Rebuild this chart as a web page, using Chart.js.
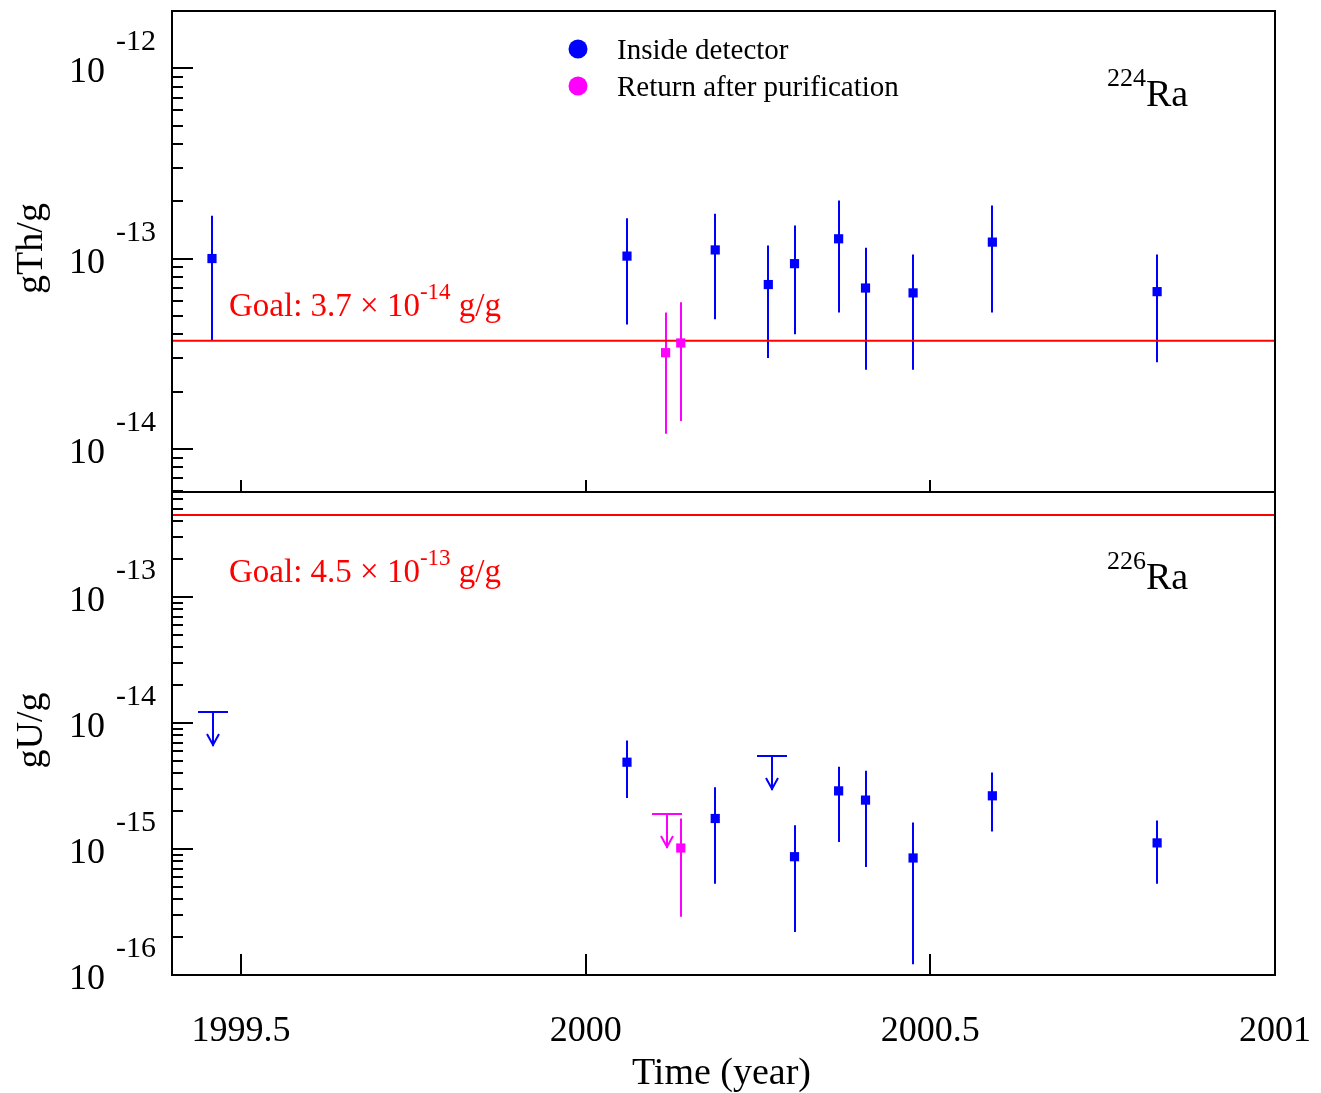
<!DOCTYPE html>
<html lang="en">
<head>
<meta charset="UTF-8">
<title>Ra contamination vs time</title>
<script src="https://cdn.jsdelivr.net/npm/chart.js@4.4.0/dist/chart.umd.min.js"></script>
<style>
    body { margin: 0; background: #fff; }
    #wrap { position: relative; width: 1321px; height: 1093px; }
    canvas { position: absolute; left: 0; }
    #topChart { top: 0; }
    #botChart { top: 484px; }
</style>
</head>
<body>
<div id="wrap">
    <canvas id="topChart" width="1321" height="500"></canvas>
    <canvas id="botChart" width="1321" height="609"></canvas>
</div>
<script>
// time axis (year)
const xMin = 1999.4, xMax = 2001;
const xTicks = [1999.5, 2000, 2000.5, 2001];
const xTickLabels = ['1999.5', '2000', '2000.5', '2001'];

// 224Ra, g Th / g
const thInsideX  = [1999.458, 2000.060, 2000.188, 2000.265, 2000.303, 2000.367, 2000.406, 2000.475, 2000.590, 2000.829];
const thInsideY  = [1.00e-13, 1.03e-13, 1.11e-13, 7.3e-14, 9.4e-14, 1.27e-13, 7.0e-14, 6.6e-14, 1.22e-13, 6.7e-14];
const thInsideHi = [1.68e-13, 1.63e-13, 1.72e-13, 1.17e-13, 1.49e-13, 2.02e-13, 1.14e-13, 1.05e-13, 1.90e-13, 1.05e-13];
const thInsideLo = [3.7e-14, 4.5e-14, 4.8e-14, 3.0e-14, 4.0e-14, 5.2e-14, 2.6e-14, 2.6e-14, 5.2e-14, 2.85e-14];
const thReturnX  = [2000.116, 2000.138];
const thReturnY  = [3.2e-14, 3.6e-14];
const thReturnHi = [5.2e-14, 5.9e-14];
const thReturnLo = [1.2e-14, 1.4e-14];
const thGoal = 3.7e-14;
const thRange = [5.93e-15, 2.0e-12];

// 226Ra, g U / g
const uInsideX  = [2000.060, 2000.188, 2000.303, 2000.367, 2000.406, 2000.475, 2000.590, 2000.829];
const uInsideY  = [4.9e-15, 1.75e-15, 8.7e-16, 2.9e-15, 2.45e-15, 8.5e-16, 2.65e-15, 1.12e-15];
const uInsideHi = [7.3e-15, 3.1e-15, 1.55e-15, 4.5e-15, 4.2e-15, 1.63e-15, 4.05e-15, 1.69e-15];
const uInsideLo = [2.55e-15, 5.3e-16, 2.2e-16, 1.14e-15, 7.2e-16, 1.22e-16, 1.38e-15, 5.3e-16];
const uInsideLimX = [1999.460, 2000.270];
const uInsideLimY = [1.22e-14, 5.5e-15];
const uReturnX  = [2000.138];
const uReturnY  = [1.02e-15];
const uReturnHi = [1.75e-15];
const uReturnLo = [2.9e-16];
const uReturnLimX = [2000.118];
const uReturnLimY = [1.9e-15];
const uGoal = 4.5e-13;
const uRange = [1e-16, 6.86e-13];

const BLUE = '#0000ff', MAGENTA = '#ff00ff', RED = '#ff0000';
const serif = '"Liberation Serif", "Times New Roman", serif';

function pts(xs, ys, lo, hi) {
    return xs.map((v, i) => ({ x: v, y: ys[i], lo: lo ? lo[i] : null, hi: hi ? hi[i] : null }));
}

function logTicks(min, max) {
    const out = [];
    for (let e = Math.floor(Math.log10(min)); e <= Math.ceil(Math.log10(max)); e++) {
        for (let m = 1; m <= 9; m++) {
            const v = m * Math.pow(10, e);
            if (v >= min * 0.999 && v <= max * 1.001) out.push({ v, m, e });
        }
    }
    return out;
}

// draws a run of text pieces: [text, size, dy]
function textRun(ctx, x, base, parts, color) {
    ctx.fillStyle = color;
    ctx.textAlign = 'left';
    ctx.textBaseline = 'alphabetic';
    parts.forEach(([t, size, dy]) => {
        ctx.font = `${size}px ${serif}`;
        ctx.fillText(t, x, base + dy);
        x += ctx.measureText(t).width;
    });
}

const errorBars = {
    id: 'errorBars',
    beforeDatasetsDraw(chart) {
        const { ctx, chartArea: ca, scales: { x, y } } = chart;
        ctx.save();
        ctx.beginPath();
        ctx.rect(ca.left, ca.top, ca.right - ca.left, ca.bottom - ca.top);
        ctx.clip();
        ctx.lineWidth = 2;
        chart.data.datasets.forEach(ds => {
            if (ds.kind === 'err') {
                ctx.strokeStyle = ds.backgroundColor;
                ds.data.forEach(p => {
                    const px = Math.round(x.getPixelForValue(p.x));
                    ctx.beginPath();
                    ctx.moveTo(px, y.getPixelForValue(p.hi));
                    ctx.lineTo(px, y.getPixelForValue(p.lo));
                    ctx.stroke();
                });
            } else if (ds.kind === 'limit') {
                ctx.strokeStyle = ds.borderColor;
                ds.data.forEach(p => {
                    const px = Math.round(x.getPixelForValue(p.x));
                    const py = Math.round(y.getPixelForValue(p.y));
                    ctx.beginPath();
                    ctx.moveTo(px - 15, py); ctx.lineTo(px + 15, py);
                    ctx.moveTo(px, py); ctx.lineTo(px, py + 34);
                    ctx.moveTo(px - 6, py + 22); ctx.lineTo(px, py + 33); ctx.lineTo(px + 6, py + 22);
                    ctx.stroke();
                });
            }
        });
        ctx.restore();
    }
};

const panelDecor = {
    id: 'panelDecor',
    afterDraw(chart, args, o) {
        const { ctx, chartArea: ca, scales: { x, y } } = chart;
        ctx.save();
        ctx.strokeStyle = '#000';
        ctx.lineWidth = 2;

        // ticks pointing into the frame
        const yt = logTicks(y.min, y.max);
        ctx.beginPath();
        yt.forEach(t => {
            const py = Math.round(y.getPixelForValue(t.v));
            ctx.moveTo(ca.left, py);
            ctx.lineTo(ca.left + (t.m === 1 ? 21 : 11), py);
        });
        xTicks.forEach(v => {
            const px = Math.round(x.getPixelForValue(v));
            ctx.moveTo(px, ca.bottom);
            ctx.lineTo(px, ca.bottom - o.xTickLen);
        });
        ctx.stroke();
        ctx.strokeRect(ca.left, ca.top, ca.right - ca.left, ca.bottom - ca.top);

        // decade labels 10^n
        yt.filter(t => t.m === 1).forEach(t => {
            const py = y.getPixelForValue(t.v);
            ctx.fillStyle = '#000';
            ctx.textBaseline = 'alphabetic';
            ctx.font = `36px ${serif}`;
            ctx.textAlign = 'right';
            ctx.fillText('10', ca.left - 67, py + 14);
            ctx.font = `30px ${serif}`;
            ctx.textAlign = 'left';
            ctx.fillText(String(t.e), ca.left - 56, py - 18);
        });

        // y title
        ctx.save();
        ctx.translate(ca.left - 130, (ca.top + ca.bottom) / 2 - 3);
        ctx.rotate(-Math.PI / 2);
        ctx.font = `38px ${serif}`;
        ctx.fillStyle = '#000';
        ctx.textAlign = 'center';
        ctx.textBaseline = 'alphabetic';
        ctx.fillText(o.yTitle, 0, 0);
        ctx.restore();

        // isotope label
        textRun(ctx, ca.right - 168, ca.top + o.isoY, [[o.mass, 26, -20], ['Ra', 38, 0]], '#000');

        // goal text
        textRun(ctx, ca.left + 57, ca.top + o.goalY, [
            [o.goalText, 33, 0], [o.goalExp, 23, -17], [' g/g', 33, 0]
        ], RED);

        // legend
        if (o.legend) {
            o.legend.forEach((item, i) => {
                const cy = ca.top + 38 + i * 37;
                ctx.fillStyle = item.color;
                ctx.beginPath();
                ctx.arc(578, cy, 9.5, 0, Math.PI * 2);
                ctx.fill();
                textRun(ctx, 617, cy + 10, [[item.text, 29, 0]], '#000');
            });
        }

        // x labels and title
        if (o.xLabels) {
            ctx.fillStyle = '#000';
            ctx.font = `36px ${serif}`;
            ctx.textAlign = 'center';
            ctx.textBaseline = 'alphabetic';
            xTicks.forEach((v, i) => {
                ctx.fillText(xTickLabels[i], x.getPixelForValue(v), ca.bottom + 66);
            });
            ctx.font = `38px ${serif}`;
            ctx.fillText('Time (year)', (ca.left + ca.right) / 2 - 2, ca.bottom + 109);
        }
        ctx.restore();
    }
};

function pointSet(label, color, data) {
    return {
        label, kind: 'err', data,
        backgroundColor: color, borderColor: color, borderWidth: 0,
        pointStyle: 'rect', pointRadius: 6.5, pointHoverRadius: 6.5
    };
}
function limitSet(label, color, data) {
    return { label, kind: 'limit', data, borderColor: color, backgroundColor: color, pointRadius: 0 };
}
function goalSet(value) {
    return {
        label: 'Goal', data: [{ x: xMin, y: value }, { x: xMax, y: value }],
        showLine: true, borderColor: RED, borderWidth: 2, pointRadius: 0
    };
}

function makeOptions(range, padBottom, xDisplay, decor) {
    return {
        responsive: false,
        animation: false,
        devicePixelRatio: 1,
        layout: { padding: { top: xDisplay ? 8 : 11, right: 46, bottom: padBottom, left: 0 } },
        scales: {
            x: {
                type: 'linear', min: xMin, max: xMax, display: xDisplay,
                ticks: { display: false }, grid: { display: false, drawTicks: false }, border: { display: false },
                afterFit: s => { s.height = xDisplay ? 118 : 0; }
            },
            y: {
                type: 'logarithmic', min: range[0], max: range[1],
                ticks: { display: false }, grid: { display: false, drawTicks: false }, border: { display: false },
                afterFit: s => { s.width = 172; }
            }
        },
        plugins: { legend: { display: false }, tooltip: { enabled: false }, panelDecor: decor }
    };
}

new Chart(document.getElementById('topChart'), {
    type: 'scatter',
    data: {
        datasets: [
            pointSet('Inside detector', BLUE, pts(thInsideX, thInsideY, thInsideLo, thInsideHi)),
            pointSet('Return after purification', MAGENTA, pts(thReturnX, thReturnY, thReturnLo, thReturnHi)),
            goalSet(thGoal)
        ]
    },
    options: makeOptions(thRange, 8, false, {
        xTickLen: 12, yTitle: 'gTh/g', mass: '224', isoY: 95,
        goalText: 'Goal: 3.7 \u00d7 10', goalExp: '-14', goalY: 305,
        legend: [{ text: 'Inside detector', color: BLUE }, { text: 'Return after purification', color: MAGENTA }],
        xLabels: false
    }),
    plugins: [errorBars, panelDecor]
});

new Chart(document.getElementById('botChart'), {
    type: 'scatter',
    data: {
        datasets: [
            pointSet('Inside detector', BLUE, pts(uInsideX, uInsideY, uInsideLo, uInsideHi)),
            pointSet('Return after purification', MAGENTA, pts(uReturnX, uReturnY, uReturnLo, uReturnHi)),
            limitSet('Inside detector (limit)', BLUE, pts(uInsideLimX, uInsideLimY)),
            limitSet('Return after purification (limit)', MAGENTA, pts(uReturnLimX, uReturnLimY)),
            goalSet(uGoal)
        ]
    },
    options: makeOptions(uRange, 0, true, {
        xTickLen: 21, yTitle: 'gU/g', mass: '226', isoY: 97,
        goalText: 'Goal: 4.5 \u00d7 10', goalExp: '-13', goalY: 90,
        legend: null,
        xLabels: true
    }),
    plugins: [errorBars, panelDecor]
});
</script>
</body>
</html>
